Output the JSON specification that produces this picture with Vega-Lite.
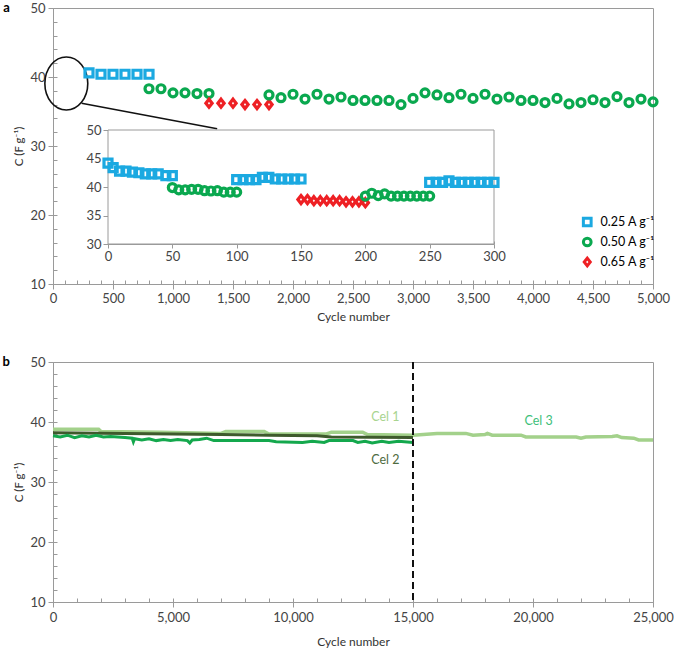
{
  "$schema": "https://vega.github.io/schema/vega-lite/v6.json",
  "padding": {"left": 2, "top": 1, "right": 0, "bottom": 0},
  "spacing": 32,
  "config": {
    "font": "Lato",
    "view": {"stroke": "#9a9a9a"},
    "axis": {
      "grid": false,
      "domainColor": "#9a9a9a",
      "tickColor": "#9a9a9a",
      "labelColor": "#444",
      "labelFont": "Lato",
      "labelFontSize": 13,
      "labelOverlap": false,
      "labelFlush": false,
      "titleFont": "Lato",
      "titleFontWeight": "normal",
      "titleColor": "#333",
      "titleFontSize": 12,
      "zindex": 1
    }
  },
  "resolve": {"scale": {"x": "independent", "y": "independent", "color": "independent", "shape": "independent"}},
  "datasets": {
    "main": [
      {"cycle": 300, "C": 40.6, "rate": "0.25 A g⁻¹"},
      {"cycle": 400, "C": 40.4, "rate": "0.25 A g⁻¹"},
      {"cycle": 500, "C": 40.4, "rate": "0.25 A g⁻¹"},
      {"cycle": 600, "C": 40.4, "rate": "0.25 A g⁻¹"},
      {"cycle": 700, "C": 40.4, "rate": "0.25 A g⁻¹"},
      {"cycle": 800, "C": 40.4, "rate": "0.25 A g⁻¹"},
      {"cycle": 800, "C": 38.3, "rate": "0.50 A g⁻¹"},
      {"cycle": 900, "C": 38.3, "rate": "0.50 A g⁻¹"},
      {"cycle": 1000, "C": 37.7, "rate": "0.50 A g⁻¹"},
      {"cycle": 1100, "C": 37.7, "rate": "0.50 A g⁻¹"},
      {"cycle": 1200, "C": 37.6, "rate": "0.50 A g⁻¹"},
      {"cycle": 1300, "C": 37.6, "rate": "0.50 A g⁻¹"},
      {"cycle": 1300, "C": 36.2, "rate": "0.65 A g⁻¹"},
      {"cycle": 1400, "C": 36.2, "rate": "0.65 A g⁻¹"},
      {"cycle": 1500, "C": 36.2, "rate": "0.65 A g⁻¹"},
      {"cycle": 1600, "C": 36.0, "rate": "0.65 A g⁻¹"},
      {"cycle": 1700, "C": 36.0, "rate": "0.65 A g⁻¹"},
      {"cycle": 1800, "C": 36.0, "rate": "0.65 A g⁻¹"},
      {"cycle": 1800, "C": 37.4, "rate": "0.50 A g⁻¹"},
      {"cycle": 1900, "C": 37.0, "rate": "0.50 A g⁻¹"},
      {"cycle": 2000, "C": 37.5, "rate": "0.50 A g⁻¹"},
      {"cycle": 2100, "C": 36.8, "rate": "0.50 A g⁻¹"},
      {"cycle": 2200, "C": 37.5, "rate": "0.50 A g⁻¹"},
      {"cycle": 2300, "C": 36.8, "rate": "0.50 A g⁻¹"},
      {"cycle": 2400, "C": 37.1, "rate": "0.50 A g⁻¹"},
      {"cycle": 2500, "C": 36.6, "rate": "0.50 A g⁻¹"},
      {"cycle": 2600, "C": 36.6, "rate": "0.50 A g⁻¹"},
      {"cycle": 2700, "C": 36.6, "rate": "0.50 A g⁻¹"},
      {"cycle": 2800, "C": 36.6, "rate": "0.50 A g⁻¹"},
      {"cycle": 2900, "C": 36.0, "rate": "0.50 A g⁻¹"},
      {"cycle": 3000, "C": 36.9, "rate": "0.50 A g⁻¹"},
      {"cycle": 3100, "C": 37.7, "rate": "0.50 A g⁻¹"},
      {"cycle": 3200, "C": 37.4, "rate": "0.50 A g⁻¹"},
      {"cycle": 3300, "C": 37.0, "rate": "0.50 A g⁻¹"},
      {"cycle": 3400, "C": 37.5, "rate": "0.50 A g⁻¹"},
      {"cycle": 3500, "C": 36.9, "rate": "0.50 A g⁻¹"},
      {"cycle": 3600, "C": 37.5, "rate": "0.50 A g⁻¹"},
      {"cycle": 3700, "C": 36.8, "rate": "0.50 A g⁻¹"},
      {"cycle": 3800, "C": 37.1, "rate": "0.50 A g⁻¹"},
      {"cycle": 3900, "C": 36.6, "rate": "0.50 A g⁻¹"},
      {"cycle": 4000, "C": 36.6, "rate": "0.50 A g⁻¹"},
      {"cycle": 4100, "C": 36.3, "rate": "0.50 A g⁻¹"},
      {"cycle": 4200, "C": 36.9, "rate": "0.50 A g⁻¹"},
      {"cycle": 4300, "C": 36.1, "rate": "0.50 A g⁻¹"},
      {"cycle": 4400, "C": 36.3, "rate": "0.50 A g⁻¹"},
      {"cycle": 4500, "C": 36.7, "rate": "0.50 A g⁻¹"},
      {"cycle": 4600, "C": 36.3, "rate": "0.50 A g⁻¹"},
      {"cycle": 4700, "C": 37.15, "rate": "0.50 A g⁻¹"},
      {"cycle": 4800, "C": 36.3, "rate": "0.50 A g⁻¹"},
      {"cycle": 4900, "C": 36.8, "rate": "0.50 A g⁻¹"},
      {"cycle": 5000, "C": 36.4, "rate": "0.50 A g⁻¹"}
    ],
    "inset": [
      {"n": 0, "v": 44.2, "rate": "0.25 A g⁻¹"},
      {"n": 4, "v": 43.4, "rate": "0.25 A g⁻¹"},
      {"n": 9, "v": 42.8, "rate": "0.25 A g⁻¹"},
      {"n": 14, "v": 42.8, "rate": "0.25 A g⁻¹"},
      {"n": 19, "v": 42.6, "rate": "0.25 A g⁻¹"},
      {"n": 24, "v": 42.5, "rate": "0.25 A g⁻¹"},
      {"n": 29, "v": 42.3, "rate": "0.25 A g⁻¹"},
      {"n": 34, "v": 42.3, "rate": "0.25 A g⁻¹"},
      {"n": 39, "v": 42.3, "rate": "0.25 A g⁻¹"},
      {"n": 45, "v": 42.0, "rate": "0.25 A g⁻¹"},
      {"n": 50, "v": 42.0, "rate": "0.25 A g⁻¹"},
      {"n": 50, "v": 39.9, "rate": "0.50 A g⁻¹"},
      {"n": 55, "v": 39.5, "rate": "0.50 A g⁻¹"},
      {"n": 60, "v": 39.5, "rate": "0.50 A g⁻¹"},
      {"n": 65, "v": 39.6, "rate": "0.50 A g⁻¹"},
      {"n": 70, "v": 39.6, "rate": "0.50 A g⁻¹"},
      {"n": 75, "v": 39.35, "rate": "0.50 A g⁻¹"},
      {"n": 80, "v": 39.3, "rate": "0.50 A g⁻¹"},
      {"n": 85, "v": 39.35, "rate": "0.50 A g⁻¹"},
      {"n": 90, "v": 39.1, "rate": "0.50 A g⁻¹"},
      {"n": 95, "v": 39.1, "rate": "0.50 A g⁻¹"},
      {"n": 100, "v": 39.1, "rate": "0.50 A g⁻¹"},
      {"n": 100, "v": 41.3, "rate": "0.25 A g⁻¹"},
      {"n": 105, "v": 41.3, "rate": "0.25 A g⁻¹"},
      {"n": 110, "v": 41.3, "rate": "0.25 A g⁻¹"},
      {"n": 115, "v": 41.3, "rate": "0.25 A g⁻¹"},
      {"n": 120, "v": 41.7, "rate": "0.25 A g⁻¹"},
      {"n": 125, "v": 41.7, "rate": "0.25 A g⁻¹"},
      {"n": 130, "v": 41.4, "rate": "0.25 A g⁻¹"},
      {"n": 135, "v": 41.4, "rate": "0.25 A g⁻¹"},
      {"n": 140, "v": 41.4, "rate": "0.25 A g⁻¹"},
      {"n": 145, "v": 41.4, "rate": "0.25 A g⁻¹"},
      {"n": 150, "v": 41.4, "rate": "0.25 A g⁻¹"},
      {"n": 150, "v": 37.8, "rate": "0.65 A g⁻¹"},
      {"n": 155, "v": 37.8, "rate": "0.65 A g⁻¹"},
      {"n": 160, "v": 37.6, "rate": "0.65 A g⁻¹"},
      {"n": 165, "v": 37.6, "rate": "0.65 A g⁻¹"},
      {"n": 170, "v": 37.6, "rate": "0.65 A g⁻¹"},
      {"n": 175, "v": 37.6, "rate": "0.65 A g⁻¹"},
      {"n": 180, "v": 37.6, "rate": "0.65 A g⁻¹"},
      {"n": 185, "v": 37.4, "rate": "0.65 A g⁻¹"},
      {"n": 190, "v": 37.4, "rate": "0.65 A g⁻¹"},
      {"n": 195, "v": 37.4, "rate": "0.65 A g⁻¹"},
      {"n": 200, "v": 37.25, "rate": "0.65 A g⁻¹"},
      {"n": 200, "v": 38.4, "rate": "0.50 A g⁻¹"},
      {"n": 205, "v": 38.9, "rate": "0.50 A g⁻¹"},
      {"n": 210, "v": 38.5, "rate": "0.50 A g⁻¹"},
      {"n": 215, "v": 38.8, "rate": "0.50 A g⁻¹"},
      {"n": 220, "v": 38.4, "rate": "0.50 A g⁻¹"},
      {"n": 225, "v": 38.4, "rate": "0.50 A g⁻¹"},
      {"n": 230, "v": 38.4, "rate": "0.50 A g⁻¹"},
      {"n": 235, "v": 38.4, "rate": "0.50 A g⁻¹"},
      {"n": 240, "v": 38.4, "rate": "0.50 A g⁻¹"},
      {"n": 245, "v": 38.4, "rate": "0.50 A g⁻¹"},
      {"n": 250, "v": 38.4, "rate": "0.50 A g⁻¹"},
      {"n": 250, "v": 40.8, "rate": "0.25 A g⁻¹"},
      {"n": 255, "v": 40.8, "rate": "0.25 A g⁻¹"},
      {"n": 260, "v": 40.8, "rate": "0.25 A g⁻¹"},
      {"n": 265, "v": 41.1, "rate": "0.25 A g⁻¹"},
      {"n": 270, "v": 40.8, "rate": "0.25 A g⁻¹"},
      {"n": 275, "v": 40.8, "rate": "0.25 A g⁻¹"},
      {"n": 280, "v": 40.8, "rate": "0.25 A g⁻¹"},
      {"n": 285, "v": 40.8, "rate": "0.25 A g⁻¹"},
      {"n": 290, "v": 40.8, "rate": "0.25 A g⁻¹"},
      {"n": 295, "v": 40.8, "rate": "0.25 A g⁻¹"},
      {"n": 300, "v": 40.8, "rate": "0.25 A g⁻¹"}
    ],
    "lines": [
      {"cycle": 0, "C": 38.8, "cell": "Cel 1"},
      {"cycle": 1900, "C": 38.8, "cell": "Cel 1"},
      {"cycle": 2000, "C": 38.4, "cell": "Cel 1"},
      {"cycle": 4500, "C": 38.3, "cell": "Cel 1"},
      {"cycle": 7000, "C": 38.1, "cell": "Cel 1"},
      {"cycle": 7200, "C": 38.4, "cell": "Cel 1"},
      {"cycle": 8800, "C": 38.4, "cell": "Cel 1"},
      {"cycle": 9000, "C": 38.0, "cell": "Cel 1"},
      {"cycle": 11400, "C": 38.0, "cell": "Cel 1"},
      {"cycle": 11600, "C": 38.3, "cell": "Cel 1"},
      {"cycle": 12900, "C": 38.3, "cell": "Cel 1"},
      {"cycle": 13100, "C": 37.9, "cell": "Cel 1"},
      {"cycle": 15000, "C": 37.8, "cell": "Cel 1"},
      {"cycle": 16000, "C": 38.1, "cell": "Cel 1"},
      {"cycle": 17200, "C": 38.1, "cell": "Cel 1"},
      {"cycle": 17500, "C": 37.8, "cell": "Cel 1"},
      {"cycle": 18000, "C": 37.9, "cell": "Cel 1"},
      {"cycle": 18100, "C": 38.1, "cell": "Cel 1"},
      {"cycle": 18300, "C": 37.8, "cell": "Cel 1"},
      {"cycle": 19500, "C": 37.8, "cell": "Cel 1"},
      {"cycle": 19700, "C": 37.5, "cell": "Cel 1"},
      {"cycle": 21800, "C": 37.5, "cell": "Cel 1"},
      {"cycle": 22000, "C": 37.3, "cell": "Cel 1"},
      {"cycle": 22200, "C": 37.5, "cell": "Cel 1"},
      {"cycle": 23300, "C": 37.6, "cell": "Cel 1"},
      {"cycle": 23500, "C": 37.7, "cell": "Cel 1"},
      {"cycle": 23700, "C": 37.4, "cell": "Cel 1"},
      {"cycle": 24200, "C": 37.3, "cell": "Cel 1"},
      {"cycle": 24400, "C": 37.0, "cell": "Cel 1"},
      {"cycle": 25000, "C": 37.0, "cell": "Cel 1"},
      {"cycle": 0, "C": 38.2, "cell": "Cel 2"},
      {"cycle": 3000, "C": 38.1, "cell": "Cel 2"},
      {"cycle": 5000, "C": 38.0, "cell": "Cel 2"},
      {"cycle": 7000, "C": 37.9, "cell": "Cel 2"},
      {"cycle": 9000, "C": 37.8, "cell": "Cel 2"},
      {"cycle": 11000, "C": 37.7, "cell": "Cel 2"},
      {"cycle": 11600, "C": 37.5, "cell": "Cel 2"},
      {"cycle": 15000, "C": 37.4, "cell": "Cel 2"},
      {"cycle": 0, "C": 37.7, "cell": "Cel 3"},
      {"cycle": 300, "C": 37.5, "cell": "Cel 3"},
      {"cycle": 600, "C": 37.8, "cell": "Cel 3"},
      {"cycle": 900, "C": 37.4, "cell": "Cel 3"},
      {"cycle": 1200, "C": 37.7, "cell": "Cel 3"},
      {"cycle": 1500, "C": 37.5, "cell": "Cel 3"},
      {"cycle": 1800, "C": 37.8, "cell": "Cel 3"},
      {"cycle": 2100, "C": 37.5, "cell": "Cel 3"},
      {"cycle": 2400, "C": 37.6, "cell": "Cel 3"},
      {"cycle": 2700, "C": 37.5, "cell": "Cel 3"},
      {"cycle": 3000, "C": 37.4, "cell": "Cel 3"},
      {"cycle": 3300, "C": 37.3, "cell": "Cel 3"},
      {"cycle": 3350, "C": 36.7, "cell": "Cel 3"},
      {"cycle": 3400, "C": 37.2, "cell": "Cel 3"},
      {"cycle": 3700, "C": 37.0, "cell": "Cel 3"},
      {"cycle": 4000, "C": 37.2, "cell": "Cel 3"},
      {"cycle": 4300, "C": 36.9, "cell": "Cel 3"},
      {"cycle": 4600, "C": 37.1, "cell": "Cel 3"},
      {"cycle": 4900, "C": 36.9, "cell": "Cel 3"},
      {"cycle": 5200, "C": 37.1, "cell": "Cel 3"},
      {"cycle": 5600, "C": 36.9, "cell": "Cel 3"},
      {"cycle": 5700, "C": 36.5, "cell": "Cel 3"},
      {"cycle": 5800, "C": 37.0, "cell": "Cel 3"},
      {"cycle": 6100, "C": 37.1, "cell": "Cel 3"},
      {"cycle": 6400, "C": 37.3, "cell": "Cel 3"},
      {"cycle": 6700, "C": 36.9, "cell": "Cel 3"},
      {"cycle": 7500, "C": 36.9, "cell": "Cel 3"},
      {"cycle": 9000, "C": 36.9, "cell": "Cel 3"},
      {"cycle": 9300, "C": 36.7, "cell": "Cel 3"},
      {"cycle": 10400, "C": 36.6, "cell": "Cel 3"},
      {"cycle": 10800, "C": 36.8, "cell": "Cel 3"},
      {"cycle": 11300, "C": 36.6, "cell": "Cel 3"},
      {"cycle": 11500, "C": 36.9, "cell": "Cel 3"},
      {"cycle": 12500, "C": 36.9, "cell": "Cel 3"},
      {"cycle": 12700, "C": 36.6, "cell": "Cel 3"},
      {"cycle": 13000, "C": 36.8, "cell": "Cel 3"},
      {"cycle": 13300, "C": 36.5, "cell": "Cel 3"},
      {"cycle": 13700, "C": 36.8, "cell": "Cel 3"},
      {"cycle": 14000, "C": 36.6, "cell": "Cel 3"},
      {"cycle": 14400, "C": 36.8, "cell": "Cel 3"},
      {"cycle": 15000, "C": 36.6, "cell": "Cel 3"}
    ]
  },
  "vconcat": [
    {
      "width": 600,
      "height": 276,
      "title": {"text": "a", "orient": "left", "anchor": "end", "angle": 0, "align": "left", "baseline": "middle", "fontSize": 13, "fontWeight": "bold", "color": "#000", "offset": 4, "frame": "group"},
      "layer": [
        {
          "data": {"values": [{"cycle": 111, "C": 39.06}]},
          "mark": {"type": "point", "shape": "M-0.81,0A0.81,1,0,1,0,0.81,0A0.81,1,0,1,0,-0.81,0Z", "size": 2809, "stroke": "#111", "strokeWidth": 1.6, "filled": false, "opacity": 1},
          "encoding": {
            "x": {
              "field": "cycle", "type": "quantitative",
              "scale": {"domain": [0, 5000], "nice": false, "zero": false},
              "axis": {"orient": "bottom", "title": null, "labels": false, "domain": false, "tickSize": -4, "minExtent": 0,
                "values": [0,100,200,300,400,500,600,700,800,900,1000,1100,1200,1300,1400,1500,1600,1700,1800,1900,2000,2100,2200,2300,2400,2500,2600,2700,2800,2900,3000,3100,3200,3300,3400,3500,3600,3700,3800,3900,4000,4100,4200,4300,4400,4500,4600,4700,4800,4900,5000]}
            },
            "y": {
              "field": "C", "type": "quantitative",
              "scale": {"domain": [10, 50], "nice": false, "zero": false},
              "axis": {"orient": "left", "title": null, "labels": false, "domain": false, "tickSize": -4, "minExtent": 0,
                "values": [10,12,14,16,18,20,22,24,26,28,30,32,34,36,38,40,42,44,46,48,50]}
            }
          }
        },
        {
          "layer": [
            {
              "data": {"values": [{"cycle": 238, "C": 36.19, "cycle2": 1368, "C2": 32.5}]},
              "mark": {"type": "rule", "color": "#111", "strokeWidth": 1.6},
              "encoding": {
                "x": {"field": "cycle", "type": "quantitative", "axis": {"title": "Cycle number"}},
                "y": {"field": "C", "type": "quantitative", "axis": {"title": "C (F g⁻¹)"}},
                "x2": {"field": "cycle2"},
                "y2": {"field": "C2"}
              }
            },
            {
              "data": {"name": "main"},
              "mark": {"type": "point", "filled": false, "strokeWidth": 3.2, "opacity": 1},
              "encoding": {
                "x": {
                  "field": "cycle", "type": "quantitative",
                  "scale": {"domain": [0, 5000], "nice": false, "zero": false},
                  "axis": {
                    "title": "Cycle number", "orient": "bottom",
                    "values": [0,500,1000,1500,2000,2500,3000,3500,4000,4500,5000],
                    "format": ",.0f",
                    "tickSize": 5,
                    "labelPadding": 3,
                    "titlePadding": 6
                  }
                },
                "y": {
                  "field": "C", "type": "quantitative",
                  "scale": {"domain": [10, 50], "nice": false, "zero": false},
                  "axis": {
                    "title": "C (F g⁻¹)", "orient": "left", "titleFontSize": 11.5,
                    "values": [10,20,30,40,50],
                    "format": "d",
                    "tickSize": 5,
                    "labelPadding": 3,
                    "titlePadding": 5,
                    "minExtent": 0
                  }
                },
                "color": {
                  "field": "rate", "type": "nominal",
                  "scale": {"domain": ["0.25 A g⁻¹", "0.50 A g⁻¹", "0.65 A g⁻¹"], "range": ["#1BA9E1", "#0AA84F", "#EE2024"]},
                  "legend": {
                    "title": null, "orient": "none", "legendX": 528, "legendY": 206,
                    "symbolStrokeWidth": 3, "symbolSize": 60, "labelFontSize": 12.5, "labelFont": "Lato", "rowPadding": 4, "clipHeight": 16, "labelOffset": 7,
                    "encode": {"labels": {"fill": {"condition": [{"test": "datum.index === 0", "value": "#1BA9E1"}, {"test": "datum.index === 1", "value": "#0AA84F"}], "value": "#EE2024"}}}
                  }
                },
                "shape": {
                  "field": "rate", "type": "nominal",
                  "scale": {"domain": ["0.25 A g⁻¹", "0.50 A g⁻¹", "0.65 A g⁻¹"], "range": ["square", "circle", "M0,-1L0.78,0L0,1L-0.78,0Z"]},
                  "legend": {
                    "title": null, "orient": "none", "legendX": 528, "legendY": 206,
                    "symbolStrokeWidth": 3, "symbolSize": 60, "labelFontSize": 12.5, "labelFont": "Lato", "rowPadding": 4, "clipHeight": 16, "labelOffset": 7,
                    "encode": {"labels": {"fill": {"condition": [{"test": "datum.index === 0", "value": "#1BA9E1"}, {"test": "datum.index === 1", "value": "#0AA84F"}], "value": "#EE2024"}}}
                  }
                },
                "size": {"value": 64}
              }
            }
          ]
        },
        {
          "data": {"values": [{"n": 0, "n2": 300, "v": 30, "v2": 50}]},
          "mark": {"type": "rect", "fill": "white", "stroke": "#9a9a9a", "strokeWidth": 1},
          "encoding": {
            "x": {
              "field": "n", "type": "quantitative",
              "scale": {"domain": [0, 300], "range": [55, 441], "nice": false, "zero": false},
              "axis": {"title": null, "orient": "bottom", "offset": -40, "labels": false, "domain": false, "tickSize": -3, "minExtent": 0,
                "values": [0,10,20,30,40,50,60,70,80,90,100,110,120,130,140,150,160,170,180,190,200,210,220,230,240,250,260,270,280,290,300]}
            },
            "x2": {"field": "n2"},
            "y": {
              "field": "v", "type": "quantitative",
              "scale": {"domain": [30, 50], "range": [236, 122], "nice": false, "zero": false},
              "axis": {"title": null, "orient": "left", "offset": -55, "labels": false, "domain": false, "tickSize": -3, "minExtent": 0,
                "values": [30,31,32,33,34,35,36,37,38,39,40,41,42,43,44,45,46,47,48,49,50]}
            },
            "y2": {"field": "v2"}
          }
        },
        {
          "data": {"name": "inset"},
          "mark": {"type": "point", "filled": false, "strokeWidth": 3.2, "opacity": 1, "size": 64},
          "encoding": {
            "x": {
              "field": "n", "type": "quantitative",
              "scale": {"domain": [0, 300], "range": [55, 441], "nice": false, "zero": false},
              "axis": {"title": null, "orient": "bottom", "offset": -40, "values": [0,50,100,150,200,250,300], "format": "d", "tickSize": 4, "labelPadding": 2, "minExtent": 0}
            },
            "y": {
              "field": "v", "type": "quantitative",
              "scale": {"domain": [30, 50], "range": [236, 122], "nice": false, "zero": false},
              "axis": {"title": null, "orient": "left", "offset": -55, "values": [30,35,40,45,50], "format": "d", "tickSize": 5, "labelPadding": 2, "minExtent": 0}
            },
            "color": {"field": "rate", "type": "nominal", "legend": null},
            "shape": {"field": "rate", "type": "nominal", "legend": null}
          }
        }
      ],
      "resolve": {"scale": {"x": "independent", "y": "independent"}, "axis": {"x": "independent", "y": "independent"}}
    },
    {
      "width": 600,
      "height": 240,
      "title": {"text": "b", "orient": "left", "anchor": "end", "angle": 0, "align": "left", "baseline": "middle", "fontSize": 13, "fontWeight": "bold", "color": "#000", "offset": 4, "frame": "group"},
      "layer": [
        {
          "layer": [
            {
              "data": {"name": "lines"},
              "transform": [{"filter": "datum.cell === 'Cel 1'"}],
              "mark": {"type": "line", "color": "#A3D18B", "strokeWidth": 3.5},
              "encoding": {
                "x": {
                  "field": "cycle", "type": "quantitative",
                  "scale": {"domain": [0, 25000], "nice": false, "zero": false},
                  "axis": {
                    "title": "Cycle number", "orient": "bottom",
                    "values": [0,5000,10000,15000,20000,25000],
                    "format": ",.0f",
                    "tickSize": 5,
                    "labelPadding": 4,
                    "titlePadding": 12
                  }
                },
                "y": {
                  "field": "C", "type": "quantitative",
                  "scale": {"domain": [10, 50], "nice": false, "zero": false},
                  "axis": {
                    "title": "C (F g⁻¹)", "orient": "left", "titleFontSize": 11.5,
                    "values": [10,20,30,40,50],
                    "format": "d",
                    "tickSize": 5,
                    "labelPadding": 3,
                    "titlePadding": 5,
                    "minExtent": 0
                  }
                }
              }
            },
            {
              "data": {"name": "lines"},
              "transform": [{"filter": "datum.cell === 'Cel 2'"}],
              "mark": {"type": "line", "color": "#3E5A2C", "strokeWidth": 3},
              "encoding": {
                "x": {"field": "cycle", "type": "quantitative", "axis": {"title": "Cycle number"}},
                "y": {"field": "C", "type": "quantitative", "axis": {"title": "C (F g⁻¹)"}}
              }
            },
            {
              "data": {"name": "lines"},
              "transform": [{"filter": "datum.cell === 'Cel 3'"}],
              "mark": {"type": "line", "color": "#14A84D", "strokeWidth": 3},
              "encoding": {
                "x": {"field": "cycle", "type": "quantitative", "axis": {"title": "Cycle number"}},
                "y": {"field": "C", "type": "quantitative", "axis": {"title": "C (F g⁻¹)"}}
              }
            },
            {
              "data": {"values": [{"cycle": 15000}]},
              "mark": {"type": "rule", "color": "#111", "strokeWidth": 2, "strokeDash": [7, 4]},
              "encoding": {
                "x": {"field": "cycle", "type": "quantitative", "axis": {"title": "Cycle number"}}
              }
            }
          ]
        },
        {
          "data": {"values": [
            {"cycle": 13850, "C": 40.9, "label": "Cel 1"},
            {"cycle": 13850, "C": 33.7, "label": "Cel 2"},
            {"cycle": 20230, "C": 40.1, "label": "Cel 3"}
          ]},
          "mark": {"type": "text", "fontSize": 12.5, "font": "Lato"},
          "encoding": {
            "x": {
              "field": "cycle", "type": "quantitative",
              "scale": {"domain": [0, 25000], "nice": false, "zero": false},
              "axis": {"orient": "bottom", "title": null, "labels": false, "domain": false, "tickSize": -4, "minExtent": 0,
                "values": [0,1000,2000,3000,4000,5000,6000,7000,8000,9000,10000,11000,12000,13000,14000,15000,16000,17000,18000,19000,20000,21000,22000,23000,24000,25000]}
            },
            "y": {
              "field": "C", "type": "quantitative",
              "scale": {"domain": [10, 50], "nice": false, "zero": false},
              "axis": {"orient": "left", "title": null, "labels": false, "domain": false, "tickSize": -4, "minExtent": 0,
                "values": [10,12,14,16,18,20,22,24,26,28,30,32,34,36,38,40,42,44,46,48,50]}
            },
            "text": {"field": "label"},
            "color": {"field": "label", "type": "nominal", "scale": {"domain": ["Cel 1", "Cel 2", "Cel 3"], "range": ["#A8D48F", "#4E6B40", "#3EC07A"]}, "legend": null}
          }
        }
      ],
      "resolve": {"scale": {"x": "independent", "y": "independent"}, "axis": {"x": "independent", "y": "independent"}}
    }
  ]
}
